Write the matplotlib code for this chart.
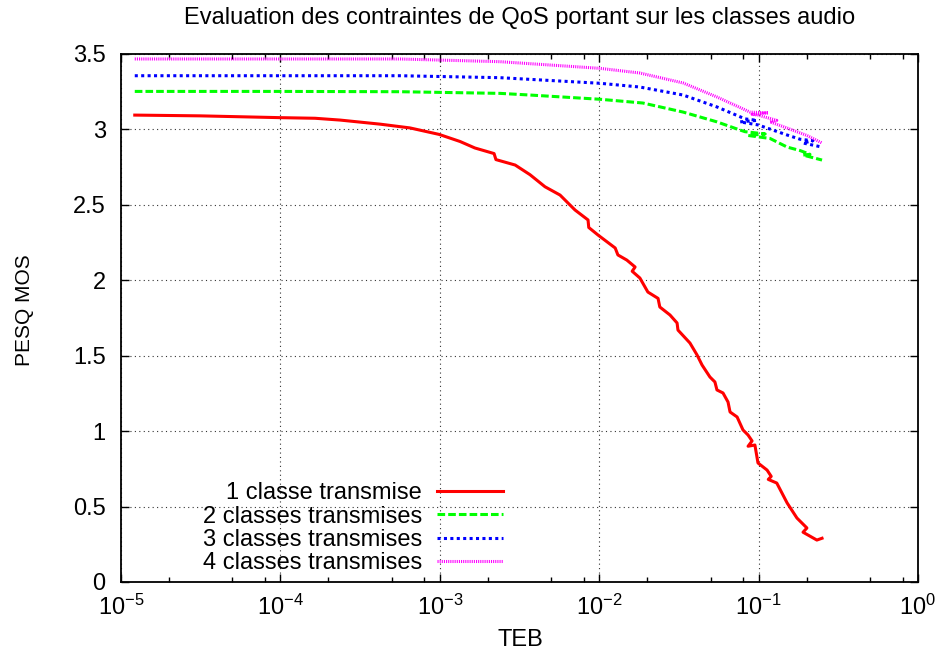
import math
import matplotlib
matplotlib.use("Agg")
import matplotlib.pyplot as plt
from matplotlib.ticker import LogLocator, FixedLocator, FuncFormatter, NullFormatter

plt.rcParams['font.family'] = ['Liberation Sans', 'DejaVu Sans']
plt.rcParams['mathtext.fontset'] = 'custom'
plt.rcParams['mathtext.rm'] = 'Liberation Sans'
plt.rcParams['mathtext.it'] = 'Liberation Sans'
plt.rcParams['mathtext.default'] = 'regular'

title = "Evaluation des contraintes de QoS portant sur les classes audio"
xlabel = "TEB"
ylabel = "PESQ MOS"
labels = ["1 classe transmise", "2 classes transmises",
          "3 classes transmises", "4 classes transmises"]

teb1 = [1.22e-5, 3.13e-5, 1.0e-4, 1.65e-4, 2.37e-4, 4.22e-4, 6.5e-4, 9.9e-4,
        1.34e-3, 1.66e-3, 2.19e-3, 2.25e-3, 2.97e-3, 3.68e-3, 4.57e-3, 5.68e-3,
        7.05e-3, 8.51e-3, 8.6e-3, 9.83e-3, 1.26e-2, 1.31e-2, 1.49e-2, 1.68e-2,
        1.61e-2, 1.80e-2, 2.02e-2, 2.34e-2, 2.40e-2, 2.78e-2, 3.08e-2, 3.12e-2,
        3.71e-2, 4.11e-2, 4.42e-2, 4.95e-2, 5.32e-2, 5.48e-2, 5.98e-2, 6.43e-2,
        6.62e-2, 7.33e-2, 7.98e-2, 8.59e-2, 9.10e-2, 8.59e-2, 9.48e-2, 9.91e-2,
        0.113, 0.120, 0.115, 0.130, 0.151, 0.174, 0.201, 0.19, 0.232, 0.25]
mos1 = [3.095, 3.09, 3.078, 3.074, 3.062, 3.035, 3.01, 2.967,
        2.92, 2.877, 2.84, 2.80, 2.764, 2.70, 2.62, 2.565,
        2.466, 2.40, 2.35, 2.30, 2.214, 2.168, 2.134, 2.088,
        2.06, 2.015, 1.922, 1.88, 1.823, 1.77, 1.717, 1.67,
        1.584, 1.505, 1.438, 1.359, 1.326, 1.273, 1.253, 1.193,
        1.127, 1.094, 1.008, 0.974, 0.935, 0.90, 0.908, 0.789,
        0.742, 0.70, 0.68, 0.656, 0.524, 0.424, 0.358, 0.33, 0.278, 0.29]

teb2 = [1.22e-5, 1.0e-4, 5.62e-4, 2.39e-3, 3.68e-3, 1.01e-2, 1.88e-2, 3.36e-2,
        5.48e-2, 7.64e-2, 8.22e-2, 0.110, 8.59e-2, 0.118, 0.151, 0.182, 0.210,
        0.19, 0.25]
mos2 = [3.252, 3.252, 3.25, 3.239, 3.228, 3.20, 3.175, 3.115,
        3.05, 2.996, 2.985, 2.97, 2.96, 2.94, 2.883, 2.86, 2.835,
        2.83, 2.797]

teb3 = [1.22e-5, 1.0e-4, 5.62e-4, 2.39e-3, 1.01e-2, 1.80e-2, 3.36e-2, 5.48e-2,
        8.22e-2, 9.77e-2, 7.64e-2, 9.91e-2, 0.151, 0.182, 0.219, 0.19, 0.25]
mos3 = [3.356, 3.356, 3.356, 3.343, 3.306, 3.281, 3.228, 3.149,
        3.07, 3.06, 3.05, 3.03, 2.963, 2.935, 2.925, 2.91, 2.883]

teb4 = [1.22e-5, 1.0e-4, 5.62e-4, 2.39e-3, 1.01e-2, 1.80e-2, 3.36e-2, 5.48e-2,
        8.83e-2, 0.115, 9.10e-2, 9.91e-2, 0.130, 0.118, 0.151, 0.201, 0.25]
mos4 = [3.467, 3.467, 3.467, 3.449, 3.405, 3.374, 3.308, 3.215,
        3.115, 3.11, 3.10, 3.095, 3.06, 3.05, 3.009, 2.96, 2.91]

xticks = [1e-5, 1e-4, 1e-3, 1e-2, 1e-1, 1e0]
yticks = [0, 0.5, 1, 1.5, 2, 2.5, 3, 3.5]

fig = plt.figure(figsize=(9.39, 6.52), dpi=100)
ax = fig.add_axes([121/939, 1-582/652, (918-121)/939, (582-54)/652])

lw = 2.2
ax.plot(teb1, mos1, color='#ff0000', lw=lw, ls='-', label=labels[0])
ax.plot(teb2, mos2, color='#00ff00', lw=lw, ls=(0, (2.5, 1.0)), label=labels[1])
ax.plot(teb3, mos3, color='#0000ff', lw=lw, ls=(0, (1.0, 1.1)), label=labels[2])
ax.plot(teb4, mos4, color='#ff00ff', lw=lw, ls=(0, (0.35, 0.35)), label=labels[3])

ax.set_xscale('log')
ax.set_xlim(1e-5, 1e0)
ax.set_ylim(0, 3.5)
ax.xaxis.set_major_locator(FixedLocator(xticks))
ax.xaxis.set_minor_locator(LogLocator(base=10, subs=(2, 5, 8)))
ax.xaxis.set_minor_formatter(NullFormatter())

def xfmt(v, pos):
    e = int(round(math.log10(v)))
    return r'$10^{%d}$' % e
ax.xaxis.set_major_formatter(FuncFormatter(xfmt))
ax.yaxis.set_major_locator(FixedLocator(yticks))
ax.yaxis.set_major_formatter(FuncFormatter(lambda v, p: ('%g' % v)))

fs = 17
ax.tick_params(axis='both', which='both', direction='in', top=True, right=True,
               labelsize=fs, colors='black')
ax.tick_params(axis='both', which='major', length=6, width=1)
ax.tick_params(axis='both', which='minor', length=3.3, width=1)
ax.tick_params(axis='y', pad=11)
ax.tick_params(axis='x', pad=9)
for s in ax.spines.values():
    s.set_linewidth(1.3)

ax.grid(True, which='major', color='#333333', lw=0.8, ls=(0, (1, 3)))

leg = ax.legend(loc='lower right', bbox_to_anchor=(0.479, 0.0145),
                frameon=False, markerfirst=False, fontsize=fs,
                handlelength=2.8, handletextpad=0.62, labelspacing=0.06,
                borderpad=0, borderaxespad=0)

fig.text(520/939, 1-18/652, title, ha='center', va='center', fontsize=fs)
fig.text(520/939, 1-640/652, xlabel, ha='center', va='center', fontsize=fs)
fig.text(25/939, 1-310/652, ylabel, ha='center', va='center', fontsize=15,
         rotation=90)

fig.savefig('out.png', dpi=100)
